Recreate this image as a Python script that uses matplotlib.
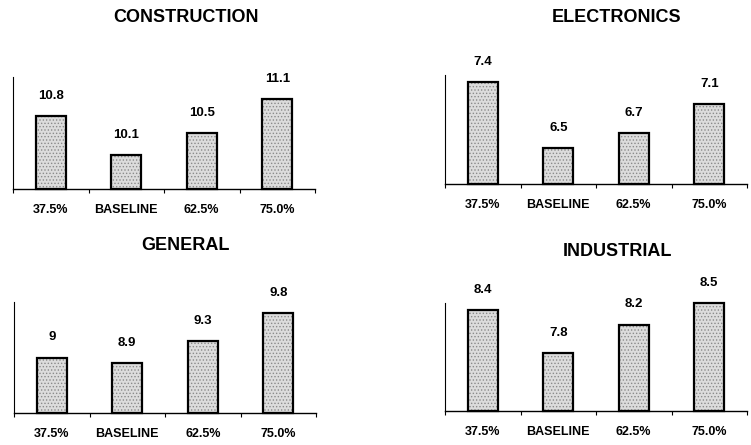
import numpy as np
import matplotlib.pyplot as plt

plt.rcParams['font.family'] = ['Liberation Sans Narrow', 'Liberation Sans', 'DejaVu Sans']
plt.rcParams['font.weight'] = 'bold'
plt.rcParams['hatch.linewidth'] = 0.6

categories = ['37.5%', 'BASELINE', '62.5%', '75.0%']

construction = [10.8, 10.1, 10.5, 11.1]
electronics = [7.4, 6.5, 6.7, 7.1]
general = [9, 8.9, 9.3, 9.8]
industrial = [8.4, 7.8, 8.2, 8.5]

W, H = 751, 445


def px_axes(fig, x0, y0, x1, y1):
    # pixel box (top-left origin) -> figure fraction
    return fig.add_axes([x0 / W, 1 - y1 / H, (x1 - x0) / W, (y1 - y0) / H])


def draw_panel(ax, values, ylim):
    x = np.arange(len(categories))
    base = ylim[0]
    heights = np.array(values) - base
    # bars start at the axis floor, so they can be left unclipped at the top
    ax.bar(x, heights, width=0.4, bottom=base, color='#dcdcdc', hatch='.....',
           edgecolor='#8a8a8a', linewidth=0, zorder=2)
    ax.bar(x, heights, width=0.4, bottom=base, fill=False, edgecolor='black',
           linewidth=1.6, zorder=3, clip_on=False)
    for xi, v in zip(x, values):
        lbl = ('%g' % v)
        ax.annotate(lbl, (xi, v), xytext=(0, 14.5), textcoords='offset points',
                    ha='center', va='center', fontsize=9.5, fontweight='bold')
    ax.set_xlim(-0.5, len(categories) - 0.5)
    ax.set_ylim(*ylim)
    ax.spines['top'].set_visible(False)
    ax.spines['right'].set_visible(False)
    ax.spines['left'].set_linewidth(0.8)
    ax.spines['bottom'].set_linewidth(1.0)
    ax.set_yticks([])
    ax.set_xticks(np.arange(len(categories) + 1) - 0.5)
    ax.set_xticklabels([])
    ax.tick_params(axis='x', which='major', direction='out', length=3, width=0.8)
    ax.set_xticks(x, minor=True)
    ax.set_xticklabels(categories, minor=True, fontsize=9, fontweight='bold')
    ax.tick_params(axis='x', which='minor', length=0, pad=11)
    ax.set_facecolor('none')


fig = plt.figure(figsize=(W / 100, H / 100), dpi=100)

ax1 = px_axes(fig, 13, 77, 315, 189)
draw_panel(ax1, construction, (9.5, 11.5))
ax2 = px_axes(fig, 445, 75, 747, 184)
draw_panel(ax2, electronics, (6.0, 7.5))
ax3 = px_axes(fig, 14, 302, 316, 413)
draw_panel(ax3, general, (8.0, 10.0))
ax4 = px_axes(fig, 445, 303, 747, 411)
draw_panel(ax4, industrial, (7.0, 8.5))

titles = [('CONSTRUCTION', 186, 18), ('ELECTRONICS', 617, 18),
          ('GENERAL', 185, 245), ('INDUSTRIAL', 617, 252)]
for t, tx, ty in titles:
    fig.text(tx / W, 1 - ty / H, t, ha='center', va='center', fontsize=13, fontweight='bold')

fig.savefig('out.png', dpi=100)
